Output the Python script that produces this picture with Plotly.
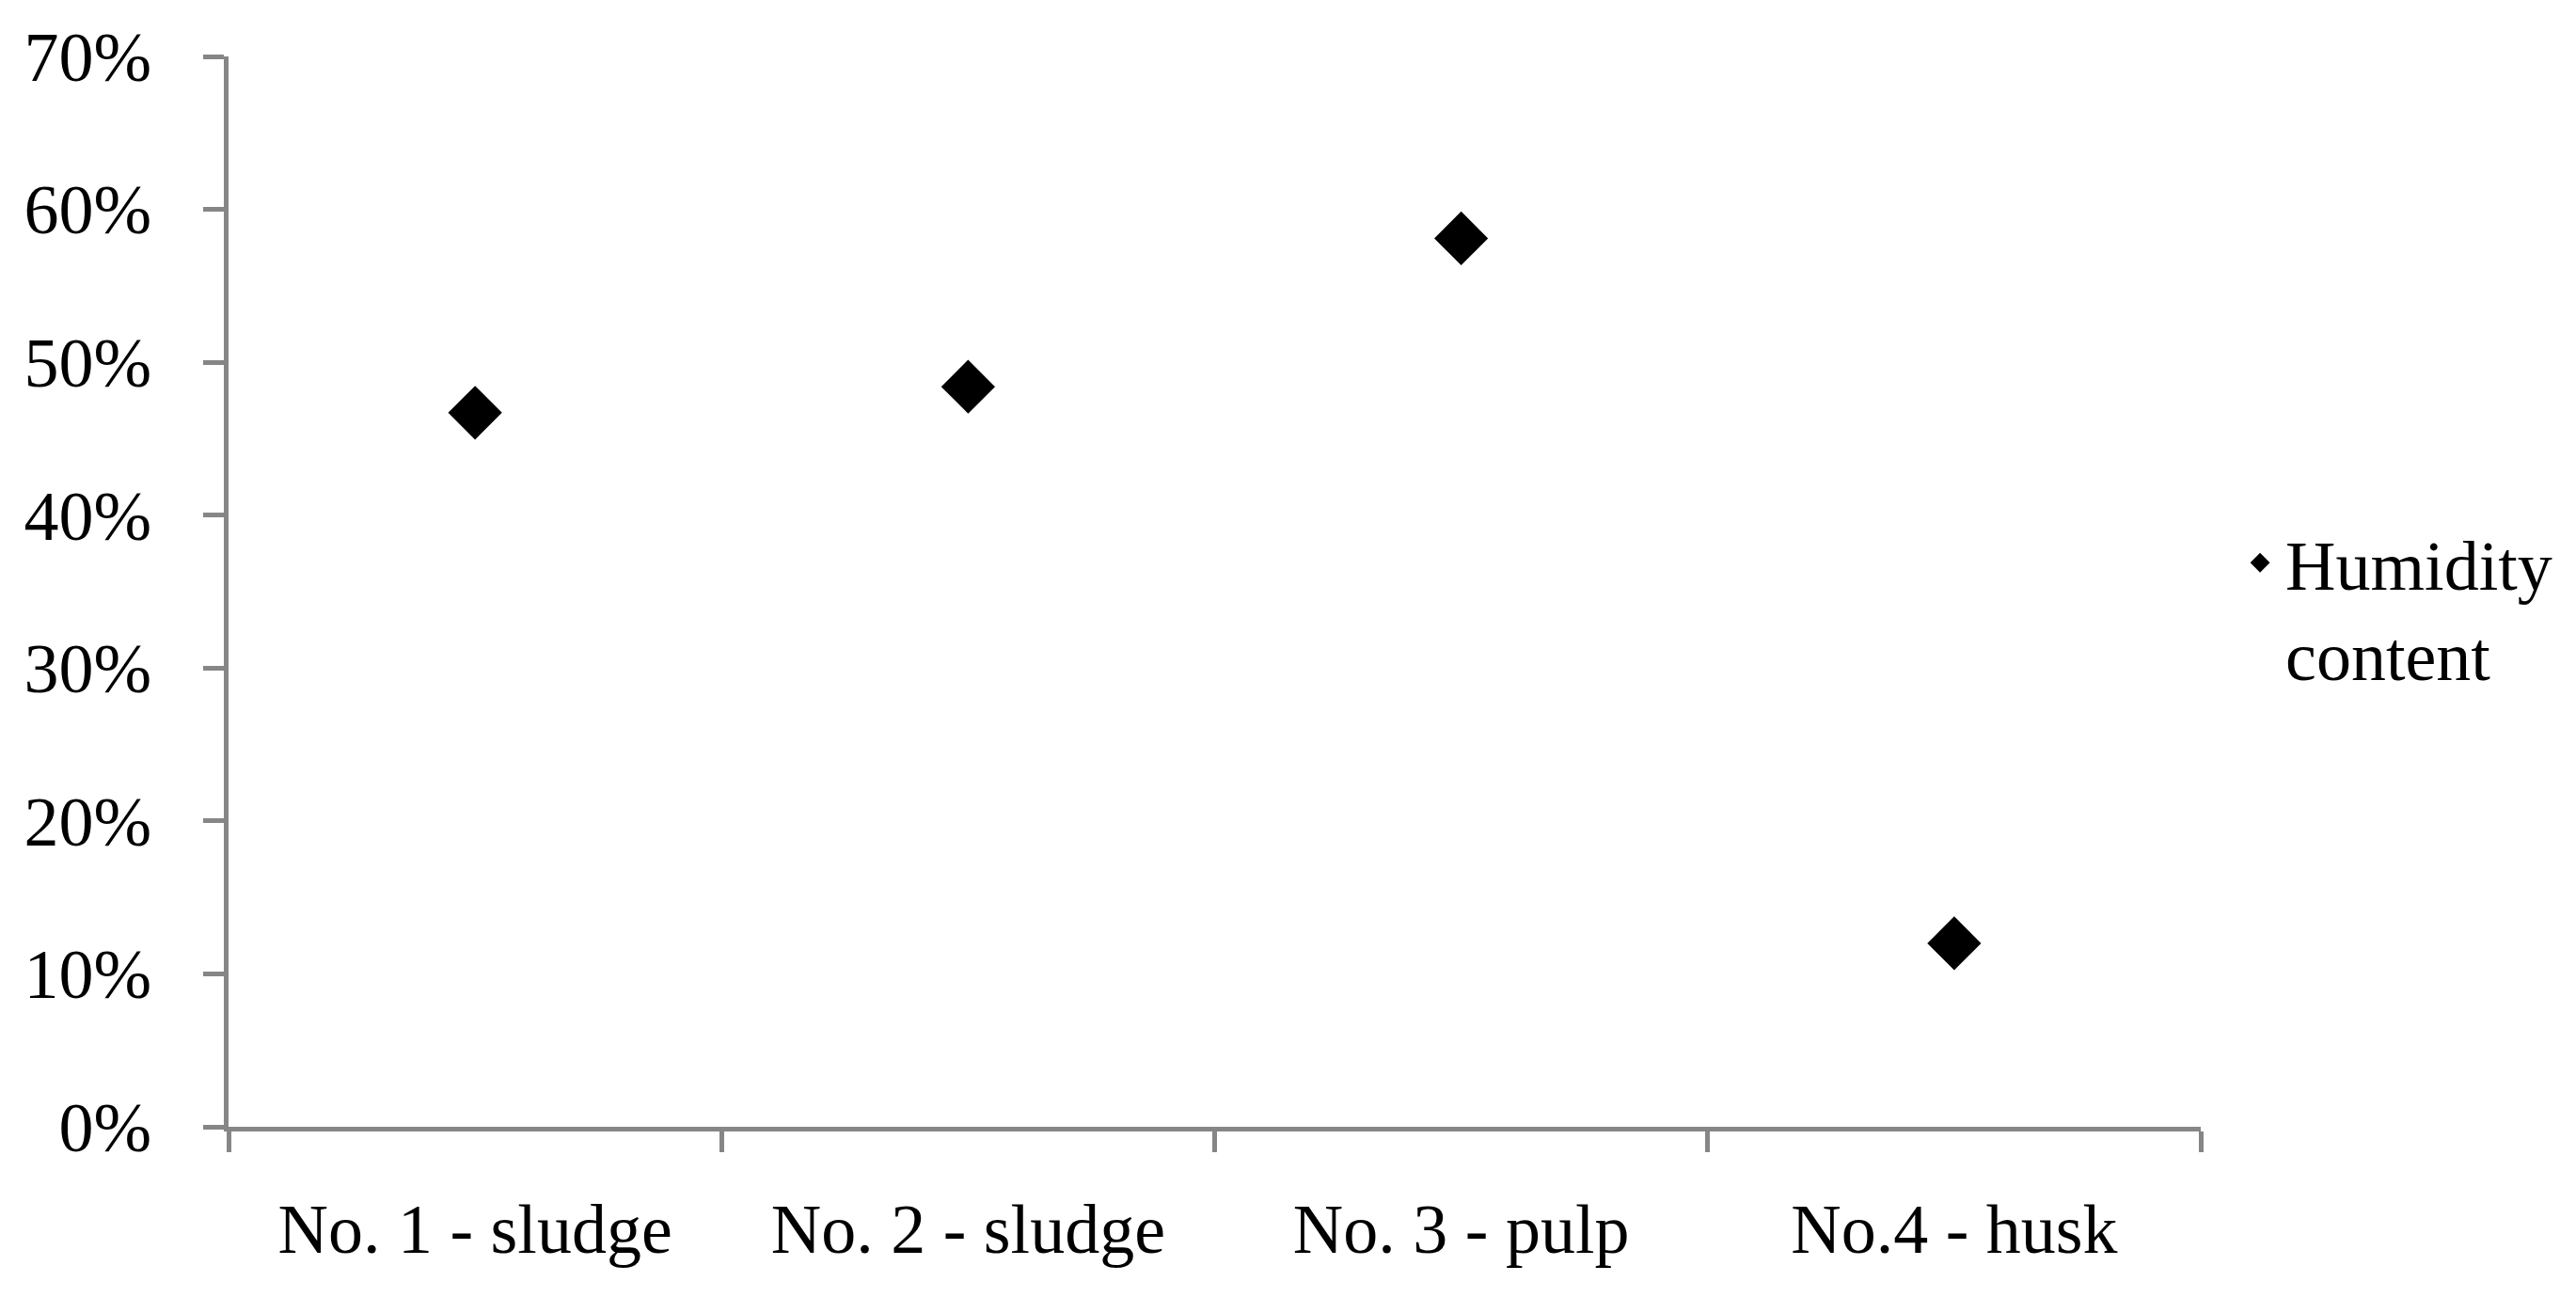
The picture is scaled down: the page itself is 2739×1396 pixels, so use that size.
import plotly.graph_objects as go

categories = ["No. 1 - sludge", "No. 2 - sludge", "No. 3 - pulp", "No.4 - husk"]
humidity = [0.467, 0.484, 0.581, 0.120]
series_name = "Humidity<br>content"
y_ticks = [0, 0.1, 0.2, 0.3, 0.4, 0.5, 0.6, 0.7]

FONT = "Liberation Serif, Times New Roman, serif"
AXIS_COLOR = "#868686"

fig = go.Figure()
fig.add_trace(go.Scatter(
    x=categories, y=humidity, mode="markers", name=series_name,
    marker=dict(symbol="diamond", size=44, color="black", line=dict(width=0)),
))

fig.update_layout(
    width=2723, height=1380, autosize=False,
    paper_bgcolor="white", plot_bgcolor="white",
    margin=dict(l=235, r=389, t=47, b=190),
    font=dict(family=FONT, size=74, color="black"),
    showlegend=True,
    legend=dict(x=1.0172, xanchor="left", y=0.575, yanchor="top",
                font=dict(family=FONT, size=74, color="black"),
                valign="top", itemsizing="trace", itemwidth=44,
                bgcolor="rgba(0,0,0,0)"),
)
fig.update_xaxes(
    type="category", range=[-0.5, 3.5], showline=True, linecolor=AXIS_COLOR, linewidth=5,
    ticks="outside", tickson="boundaries", ticklen=22, tickwidth=5, tickcolor=AXIS_COLOR,
    showgrid=False, zeroline=False, ticklabelstandoff=40,
    tickfont=dict(family=FONT, size=74, color="black"),
)
fig.update_yaxes(
    range=[0, 0.7], tickvals=y_ticks, tickformat=".0%", showline=True, linecolor=AXIS_COLOR,
    linewidth=5, ticks="outside", ticklen=22, tickwidth=5, tickcolor=AXIS_COLOR,
    showgrid=False, zeroline=False, ticklabelstandoff=40,
    tickfont=dict(family=FONT, size=74, color="black"),
)

fig.write_html("out.html")
